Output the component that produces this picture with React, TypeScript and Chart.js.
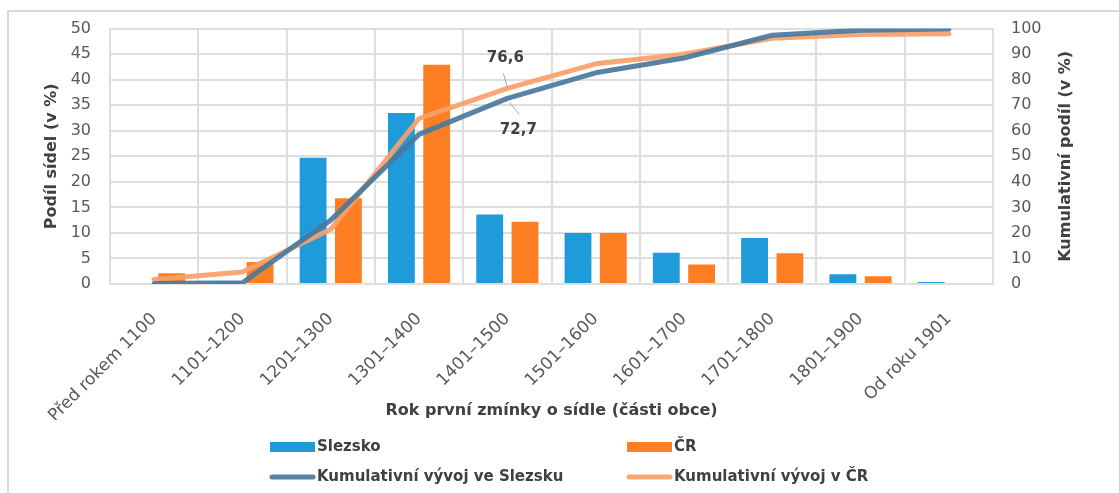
import React, { useEffect, useRef } from "react";
import { Chart, registerables } from "chart.js";

Chart.register(...registerables);

const categories = [
  "Před rokem 1100",
  "1101–1200",
  "1201–1300",
  "1301–1400",
  "1401–1500",
  "1501–1600",
  "1601–1700",
  "1701–1800",
  "1801–1900",
  "Od roku 1901",
];
const slezsko = [0, 0.4, 24.7, 33.5, 13.6, 10.0, 6.1, 9.0, 1.9, 0.4];
const cr = [2.1, 4.3, 16.8, 42.9, 12.2, 10.0, 3.8, 6.0, 1.5, 0];
const kumSlezsko = [0.2, 0.5, 25.0, 58.6, 72.7, 82.7, 88.5, 97.4, 99.4, 99.8];
const kumCR = [1.8, 4.7, 21.4, 64.8, 76.6, 86.2, 90.0, 96.2, 97.7, 98.0];
const labelIndex = 4;

const FONT = "'DejaVu Sans', 'Liberation Sans', sans-serif";
const BLUE = "#1e9bd8";
const ORANGE = "#fd7e23";
const BLUE_LINE = "rgba(72,120,158,0.92)";
const ORANGE_LINE = "rgba(250,160,105,0.92)";
const GRID = "#dedede";
const TITLE = "#404040";
const TICK = "#595959";

const extrasPlugin = {
  id: "extras",
  beforeDraw(chart: any) {
    const ctx = chart.ctx;
    ctx.save();
    ctx.strokeStyle = "#d9d9d9";
    ctx.lineWidth = 2;
    ctx.beginPath();
    ctx.moveTo(8, 493);
    ctx.lineTo(8, 11);
    ctx.lineTo(1119, 11);
    ctx.stroke();
    ctx.restore();
  },
  afterDraw(chart: any) {
    const ctx = chart.ctx;
    ctx.save();
    // right axis title (reads bottom to top)
    const y1 = chart.scales.y1;
    ctx.fillStyle = TITLE;
    ctx.font = `bold 16px ${FONT}`;
    ctx.textAlign = "center";
    ctx.textBaseline = "middle";
    ctx.translate(1066, (y1.top + y1.bottom) / 2);
    ctx.rotate(-Math.PI / 2);
    ctx.fillText("Kumulativní podíl (v %)", 0, 0);
    ctx.restore();

    // data labels with leader lines
    const mS = chart.getDatasetMeta(2).data[labelIndex];
    const mC = chart.getDatasetMeta(3).data[labelIndex];
    ctx.save();
    ctx.strokeStyle = "#a6a6a6";
    ctx.lineWidth = 1;
    ctx.beginPath();
    ctx.moveTo(mC.x - 4, mC.y - 15);
    ctx.lineTo(mC.x, mC.y - 1);
    ctx.moveTo(mS.x + 2, mS.y + 4);
    ctx.lineTo(mS.x + 12, mS.y + 16);
    ctx.stroke();
    ctx.fillStyle = TITLE;
    ctx.font = `bold 15px ${FONT}`;
    ctx.textAlign = "center";
    ctx.textBaseline = "middle";
    ctx.fillText(String(kumCR[labelIndex]).replace(".", ","), mC.x - 2, mC.y - 30);
    ctx.fillText(String(kumSlezsko[labelIndex]).replace(".", ","), mS.x + 11, mS.y + 32);
    ctx.restore();

    // legend (2 x 2 grid)
    const ds = chart.data.datasets;
    const items = [
      { ds: ds[0], x: 270, y: 447, kind: "box" },
      { ds: ds[1], x: 627, y: 447, kind: "box" },
      { ds: ds[2], x: 270, y: 477, kind: "line" },
      { ds: ds[3], x: 627, y: 477, kind: "line" },
    ];
    ctx.save();
    ctx.font = `bold 15px ${FONT}`;
    ctx.textAlign = "left";
    ctx.textBaseline = "middle";
    for (const it of items) {
      if (it.kind === "box") {
        ctx.fillStyle = it.ds.backgroundColor;
        ctx.fillRect(it.x, it.y - 5, 45, 10);
      } else {
        ctx.strokeStyle = it.ds.borderColor;
        ctx.lineWidth = 5;
        ctx.lineCap = "round";
        ctx.beginPath();
        ctx.moveTo(it.x + 2, it.y);
        ctx.lineTo(it.x + 43, it.y);
        ctx.stroke();
      }
      ctx.fillStyle = TITLE;
      ctx.fillText(it.ds.label, it.x + 47, it.y);
    }
    ctx.restore();
  },
};

function ChartCanvas() {
  const ref = useRef<HTMLCanvasElement>(null);
  useEffect(() => {
    if (!ref.current) return;
    const chart = new Chart(ref.current, {
      type: "bar",
      data: {
        labels: categories,
        datasets: [
          {
            type: "bar",
            label: "Slezsko",
            data: slezsko,
            backgroundColor: BLUE,
            yAxisID: "y",
            order: 1,
            categoryPercentage: 0.8,
            barPercentage: 0.76,
          },
          {
            type: "bar",
            label: "ČR",
            data: cr,
            backgroundColor: ORANGE,
            yAxisID: "y",
            order: 1,
            categoryPercentage: 0.8,
            barPercentage: 0.76,
          },
          {
            type: "line",
            label: "Kumulativní vývoj ve Slezsku",
            data: kumSlezsko,
            borderColor: BLUE_LINE,
            backgroundColor: BLUE_LINE,
            borderWidth: 5,
            pointRadius: 0,
            tension: 0,
            borderCapStyle: "round",
            borderJoinStyle: "round",
            yAxisID: "y1",
            order: 0,
          },
          {
            type: "line",
            label: "Kumulativní vývoj v ČR",
            data: kumCR,
            borderColor: ORANGE_LINE,
            backgroundColor: ORANGE_LINE,
            borderWidth: 5,
            pointRadius: 0,
            tension: 0,
            borderCapStyle: "round",
            borderJoinStyle: "round",
            yAxisID: "y1",
            order: 0,
          },
        ],
      },
      options: {
        responsive: false,
        animation: false,
        layout: { padding: { top: 23, bottom: 73, left: 0, right: 0 } },
        plugins: {
          legend: { display: false },
          tooltip: { enabled: false },
        },
        scales: {
          x: {
            afterFit: (s: any) => {
              s.height = 136;
            },
            grid: { color: GRID, lineWidth: 2, drawTicks: false },
            border: { color: GRID, width: 2 },
            ticks: {
              color: TICK,
              font: { family: FONT, size: 17 },
              minRotation: 45,
              maxRotation: 45,
              padding: 25,
              autoSkip: false,
            },
            title: {
              display: true,
              text: "Rok první zmínky o sídle (části obce)",
              color: TITLE,
              font: { family: FONT, size: 16, weight: "bold" },
              padding: { top: 0, bottom: 0 },
            },
          },
          y: {
            position: "left",
            min: 0,
            max: 50,
            afterFit: (s: any) => {
              s.width = 110;
            },
            ticks: {
              stepSize: 5,
              color: TICK,
              font: { family: FONT, size: 16 },
              padding: 19,
            },
            grid: { color: GRID, lineWidth: 2, drawTicks: false },
            border: { color: GRID, width: 2 },
            title: {
              display: true,
              text: "Podíl sídel (v %)",
              color: TITLE,
              font: { family: FONT, size: 16, weight: "bold" },
              padding: { top: 42, bottom: 0 },
            },
          },
          y1: {
            position: "right",
            min: 0,
            max: 100,
            afterFit: (s: any) => {
              s.width = 126;
            },
            ticks: {
              stepSize: 10,
              color: TICK,
              font: { family: FONT, size: 16 },
              padding: 18,
            },
            grid: { drawOnChartArea: false, drawTicks: false },
            border: { color: GRID, width: 2 },
            title: { display: false },
          },
        },
      },
      plugins: [extrasPlugin],
    });
    return () => chart.destroy();
  }, []);
  return (
    <canvas
      ref={ref}
      width={1119}
      height={493}
      style={{ position: "absolute", left: 0, top: 0, width: 1119, height: 493 }}
    />
  );
}

export default function App() {
  return (
    <div
      style={{
        position: "fixed",
        left: 0,
        top: 0,
        width: 1119,
        height: 493,
        background: "#ffffff",
        overflow: "hidden",
      }}
    >
      <ChartCanvas />
    </div>
  );
}
